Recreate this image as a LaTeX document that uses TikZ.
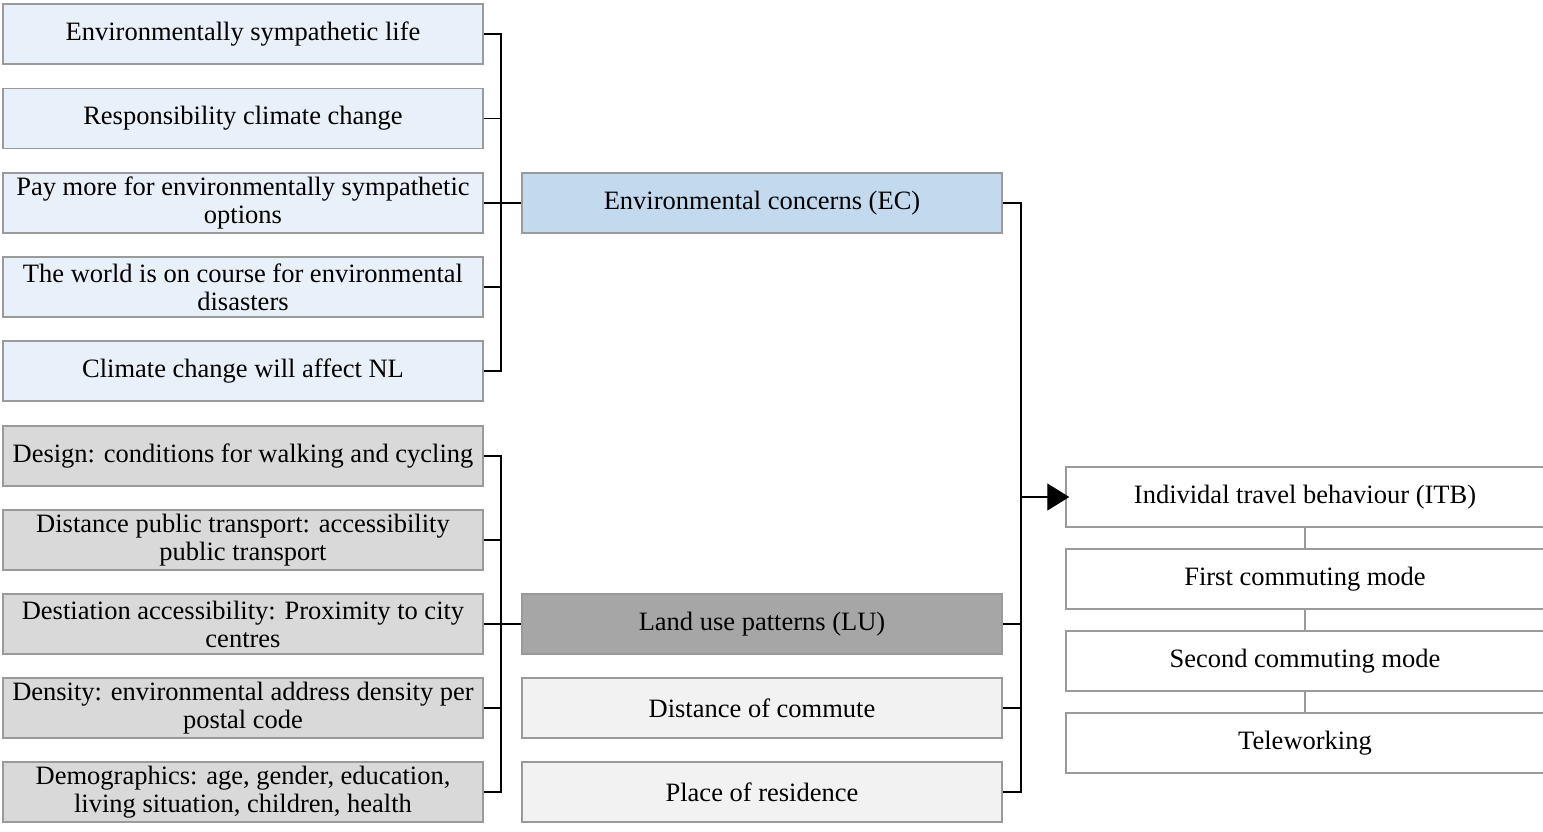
\documentclass[tikz,border=0pt]{standalone}
\usepackage{fontspec}
\setmainfont{Liberation Serif}
\usetikzlibrary{arrows.meta}
\definecolor{lblue}{HTML}{E8F0F9}
\definecolor{mblue}{HTML}{C3D9EE}
\definecolor{lgray}{HTML}{D9D9D9}
\definecolor{dgray}{HTML}{A6A6A6}
\definecolor{vlgray}{HTML}{F2F2F2}
\definecolor{bord}{HTML}{9A9A9A}
\tikzset{
  box/.style={draw=bord, line width=1.5pt, minimum width=480pt, minimum height=60pt, inner sep=0pt, align=center, font=\fontsize{26.5}{28}\selectfont},
  bluebox/.style={box, fill=lblue},
  ecbox/.style={box, fill=mblue},
  graybox/.style={box, fill=lgray},
  lubox/.style={box, fill=dgray},
  palebox/.style={box, fill=vlgray},
  whitebox/.style={box, fill=white, minimum width=478pt},
  conn/.style={line width=1.3pt, black},
  vconn/.style={line width=1.3pt, bord},
}
\begin{document}
\begin{tikzpicture}[x=1pt,y=-1pt]
\useasboundingbox (0,0) rectangle (1543,832);
\clip (0,0) rectangle (1543,832);
% left blue boxes
\node[bluebox] (b1) at (243,34) {Environmentally sympathetic life};
\node[bluebox] (b2) at (243,118.5) {Responsibility climate change};
\node[bluebox] (b3) at (243,203) {Pay more for environmentally sympathetic\\options};
\node[bluebox] (b4) at (243,287) {The world is on course for environmental\\disasters};
\node[bluebox] (b5) at (243,371) {Climate change will affect NL};
% left gray boxes
\node[graybox] (g1) at (243,456) {Design: conditions for walking and cycling};
\node[graybox] (g2) at (243,540) {Distance public transport: accessibility\\public transport};
\node[graybox] (g3) at (243,624) {Destiation accessibility: Proximity to city\\centres};
\node[graybox] (g4) at (243,708) {Density: environmental address density per\\postal code};
\node[graybox] (g5) at (243,792) {Demographics: age, gender, education,\\living situation, children, health};
% middle
\node[ecbox] (ec) at (762,203) {Environmental concerns (EC)};
\node[lubox] (lu) at (762,624) {Land use patterns (LU)};
\node[palebox] (dc) at (762,708) {Distance of commute};
\node[palebox] (pr) at (762,792) {Place of residence};
% right
\node[whitebox] (itb) at (1305,497) {Individal travel behaviour (ITB)};
\node[whitebox] (fcm) at (1305,579) {First commuting mode};
\node[whitebox] (scm) at (1305,661) {Second commuting mode};
\node[whitebox] (tw) at (1305,743) {Teleworking};
% buses
\coordinate (busA) at (501,203);
\coordinate (busB) at (501,624);
\coordinate (busR) at (1021,497);
\foreach \n in {b1,b2,b3,b4,b5} {\draw[conn] (\n.east) -| (busA);}
\draw[conn] (busA) -- (ec.west);
\foreach \n in {g1,g2,g3,g4,g5} {\draw[conn] (\n.east) -| (busB);}
\draw[conn] (busB) -- (lu.west);
\foreach \n in {ec,lu,dc,pr} {\draw[conn] (\n.east) -| (busR);}
\draw[conn, -{Triangle[length=22pt,width=27pt]}, shorten >=-4pt] (busR) -- (itb.west);
\draw[vconn] (itb.south) -- (fcm.north);
\draw[vconn] (fcm.south) -- (scm.north);
\draw[vconn] (scm.south) -- (tw.north);
\end{tikzpicture}
\end{document}
